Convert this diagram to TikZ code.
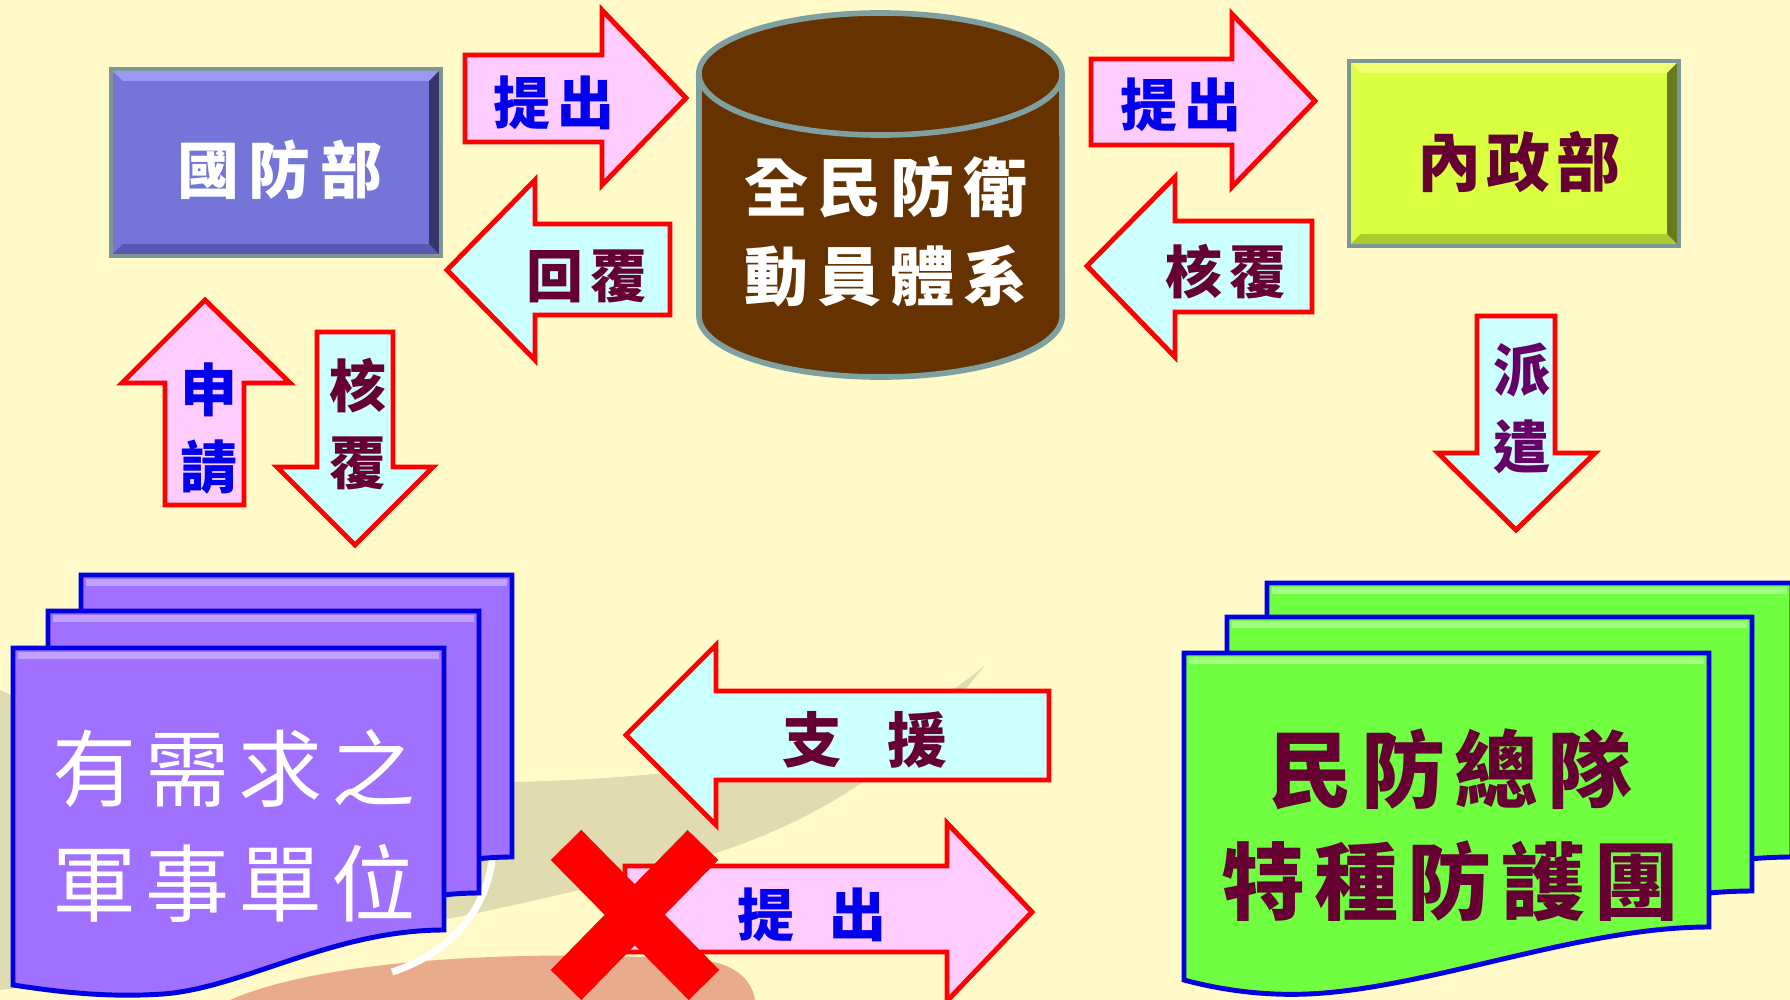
\documentclass[tikz,border=0pt]{standalone}
\usepackage{fontspec}
\usepackage{tikz}
\usetikzlibrary{shapes,arrows}
\newfontfamily\cjk{Noto Sans CJK TC}

\definecolor{bg}{HTML}{FFFAC8}
\definecolor{tan}{HTML}{E0DBB0}
\definecolor{salmon}{HTML}{E8AC8C}
\definecolor{gfbfill}{HTML}{7575D9}
\definecolor{gfblight}{HTML}{9A9AF5}
\definecolor{gfbdark}{HTML}{5858B4}
\definecolor{nzbfill}{HTML}{D9FF40}
\definecolor{nzblight}{HTML}{F0FF70}
\definecolor{nzbdark}{HTML}{ACCC30}
\definecolor{boxborder}{HTML}{7F9696}
\definecolor{cylfill}{HTML}{663300}
\definecolor{cylborder}{HTML}{7FA0A0}
\definecolor{pinkfill}{HTML}{FFCCFF}
\definecolor{cyanfill}{HTML}{CCFFFF}
\definecolor{bluetext}{HTML}{0000EE}
\definecolor{maroon}{HTML}{660033}
\definecolor{purpletext}{HTML}{660066}
\definecolor{docpurple}{HTML}{A070FF}
\definecolor{docgreen}{HTML}{70FF40}
\definecolor{docblue}{HTML}{0000E0}

\tikzstyle{box} = [rectangle, outer sep=0pt, inner sep=0pt, fill=#1]
\tikzstyle{blockarrow} = [draw=red, line width=1.4pt, line join=miter, fill=#1]
\tikzstyle{doc} = [draw=docblue, line width=1.4pt, line join=miter, fill=#1]
\tikzstyle{redx} = [draw=red, line width=12.2pt]
\tikzstyle{arrowtext} = [inner sep=0pt, font={\cjk\bfseries\fontsize{16.2}{21.9}\selectfont\addfontfeatures{LetterSpace=14}}]
\tikzstyle{vtext} = [arrowtext, align=center]
\tikzstyle{bigtext} = [inner sep=0pt, align=center, font={\cjk\fontsize{23.9}{32.5}\selectfont\addfontfeatures{LetterSpace=11}}]

% bevel of a box node: light top, dark bottom and right
\newcommand{\bevel}[3]{%
  \fill[#2] (#1.north west) -- (#1.north east) -- ([shift={(-12,12)}]#1.north east) -- ([shift={(12,12)}]#1.north west) -- cycle;
  \fill[#3] (#1.south west) -- ([shift={(12,-12)}]#1.south west) -- ([shift={(-12,-12)}]#1.south east) -- (#1.south east) -- cycle;
  \fill[#3!60!black] (#1.north east) -- (#1.south east) -- ([shift={(-12,-12)}]#1.south east) -- ([shift={(-12,12)}]#1.north east) -- cycle;
  \draw[boxborder, line width=1pt] (#1.north west) rectangle (#1.south east);
}

\begin{document}
\begin{tikzpicture}[x=0.01cm, y=-0.01cm]
        \useasboundingbox (0,0) rectangle (1790,1000);
        \fill[bg] (0,0) rectangle (1790,1000);
        
        % background swoosh
        \fill[tan] (0,690) .. controls (150,760) and (350,788) .. (516,782) .. controls (750,776) and (900,740) .. (985,665) .. controls (900,775) and (800,830) .. (686,862) .. controls (500,915) and (250,960) .. (0,990) -- cycle;
        \fill[salmon] (230,1000) .. controls (320,960) and (520,948) .. (700,960) .. controls (735,963) and (752,980) .. (755,1000) -- cycle;
        \draw[white, line width=2pt] (492,860) .. controls (485,915) and (445,955) .. (392,972);
        
        % document stacks
        \foreach \dx/\dy in {81/575, 48/611, 13/648} {
          \draw[doc=docpurple, shift={(\dx,\dy)}] (0,0) -- (431,0) -- (431,282) .. controls (320,282) and (230,340) .. (150,346) .. controls (90,350) and (40,343) .. (0,337) -- cycle;
          \fill[white, opacity=.35, shift={(\dx,\dy)}] (5,4) rectangle (426,11);
        }
        \foreach \dx/\dy in {1267/583, 1227/617, 1184/653} {
          \draw[doc=docgreen, shift={(\dx,\dy)}] (0,0) -- (525,0) -- (525,274) .. controls (400,274) and (260,330) .. (140,340) .. controls (80,345) and (30,335) .. (0,327) -- cycle;
          \fill[white, opacity=.35, shift={(\dx,\dy)}] (5,4) rectangle (520,11);
        }
        \node (jsdw) [bigtext, text=white] at (234,826) {有需求之\\軍事單位};
        \node (mfzd) [bigtext, text=maroon, font={\cjk\bfseries\fontsize{23.9}{31.9}\selectfont\addfontfeatures{LetterSpace=11}}] at (1450,825) {民防總隊\\特種防護團};
        
        % boxes
        \node (gfb) [box=gfbfill, minimum width=3.3cm, minimum height=1.87cm] at (276,162.5) {};
        \bevel{gfb}{gfblight}{gfbdark}
        \node (gfbt) [inner sep=0pt, text=white, font={\cjk\bfseries\fontsize{17.6}{20}\selectfont\addfontfeatures{LetterSpace=16}}] at (280,170) {國防部};
        
        \node (nzb) [box=nzbfill, minimum width=3.3cm, minimum height=1.85cm] at (1514,153.5) {};
        \bevel{nzb}{nzblight}{nzbdark}
        \node (nzbt) [inner sep=0pt, text=maroon, font={\cjk\bfseries\fontsize{18.2}{20}\selectfont\addfontfeatures{LetterSpace=9}}] at (1519,162) {內政部};
        
        % cylinder
        \filldraw[fill=cylfill, draw=cylborder, line width=1.6pt] (699,74) -- (699,316) arc[start angle=180, end angle=360, x radius=1.815cm, y radius=0.61cm] -- (1062,74) arc[start angle=0, end angle=180, x radius=1.815cm, y radius=0.61cm] -- cycle;
        \draw[draw=cylborder, line width=1.6pt] (699,74) arc[start angle=180, end angle=360, x radius=1.815cm, y radius=0.61cm];
        \node (qmfw) [inner sep=0pt, align=center, text=white, font={\cjk\bfseries\fontsize{18.2}{25.3}\selectfont\addfontfeatures{LetterSpace=14}}] at (886,232) {全民防衛\\動員體系};
        
        % block arrows
        \draw[blockarrow=pinkfill] (465,55) -- (602,55) -- (602,10) -- (686,98) -- (602,185) -- (602,142) -- (465,142) -- cycle;
        \draw[blockarrow=cyanfill] (670,224) -- (535,224) -- (535,180) -- (447,270) -- (535,360) -- (535,315) -- (670,315) -- cycle;
        \draw[blockarrow=pinkfill] (1091,59) -- (1232,59) -- (1232,14) -- (1315,101) -- (1232,187) -- (1232,145) -- (1091,145) -- cycle;
        \draw[blockarrow=cyanfill] (1312,221) -- (1175,221) -- (1175,177) -- (1087,266) -- (1175,357) -- (1175,312) -- (1312,312) -- cycle;
        \draw[blockarrow=pinkfill] (165,505) -- (165,383) -- (122,383) -- (205,300) -- (290,383) -- (244,383) -- (244,505) -- cycle;
        \draw[blockarrow=cyanfill] (317,332) -- (317,467) -- (277,467) -- (355,545) -- (433,467) -- (393,467) -- (393,332) -- cycle;
        \draw[blockarrow=cyanfill] (1477,316) -- (1477,453) -- (1438,453) -- (1516,530) -- (1595,453) -- (1555,453) -- (1555,316) -- cycle;
        \draw[blockarrow=cyanfill] (1049,691) -- (716,691) -- (716,645) -- (626,735) -- (716,825) -- (716,780) -- (1049,780) -- cycle;
        \draw[blockarrow=pinkfill] (625,866) -- (947,866) -- (947,823) -- (1032,912) -- (947,1001) -- (947,952) -- (625,952) -- cycle;
        
        \node (tc1) [arrowtext, text=bluetext] at (554,103) {提出};
        \node (hf1) [arrowtext, text=maroon] at (587,276) {回覆};
        \node (tc2) [arrowtext, text=bluetext] at (1181,105) {提出};
        \node (hf2) [arrowtext, text=maroon] at (1226,272) {核覆};
        \node (sq) [vtext, text=bluetext] at (209,429) {申\\請};
        \node (hf3) [vtext, text=maroon] at (358,424) {核\\覆};
        \node (pq) [vtext, text=purpletext] at (1522,408) {派\\遣};
        \node (zy) [arrowtext, text=maroon, font={\cjk\bfseries\fontsize{17}{20}\selectfont\addfontfeatures{LetterSpace=14}}] at (865,740) {支\hspace{0.76em}援};
        \node (tc3) [arrowtext, text=bluetext] at (812,915) {提\hspace{0.6em}出};
        
        % rejected
        \draw[redx] (566,845) -- (704,985);
        \draw[redx] (703,845) -- (566,985);
        
    \end{tikzpicture}
\end{document}
